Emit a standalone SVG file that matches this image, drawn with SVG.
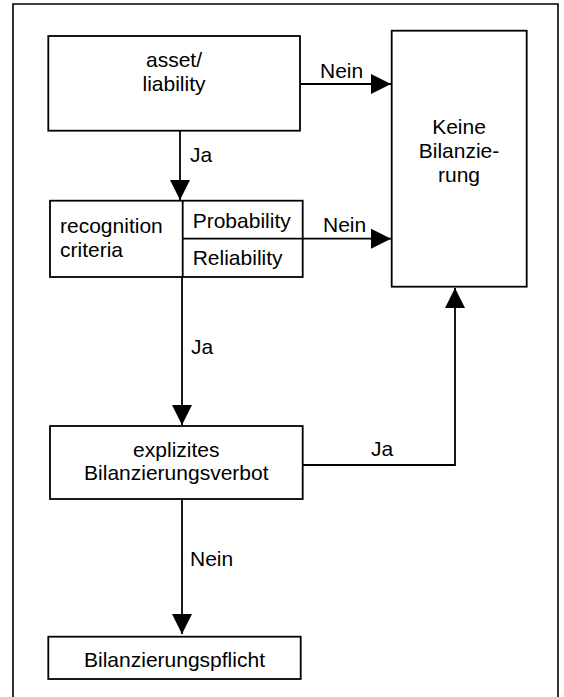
<svg xmlns="http://www.w3.org/2000/svg" width="564" height="697" viewBox="0 0 564 697">
<style>
.frame{fill:none;stroke:#000;stroke-width:1.6}
.box{fill:#fff;stroke:#000;stroke-width:1.8}
.ln{fill:none;stroke:#000;stroke-width:1.8}
text{font-family:"Liberation Sans",Arial,sans-serif;font-size:21px;fill:#000}
.c{text-anchor:middle}
</style>
<defs>
<marker id="ah" markerUnits="userSpaceOnUse" markerWidth="21" markerHeight="21" refX="20" refY="10" orient="auto" viewBox="0 0 21 21">
<path d="M0,0 L20,10 L0,20 z" fill="#000"/>
</marker>
</defs>
<rect width="564" height="697" fill="#fff"/>
<path class="frame" d="M13,700 V4 H558 V700"/>
<g id="connectors">
<line class="ln" x1="180" y1="131" x2="180" y2="200" marker-end="url(#ah)"/>
<line class="ln" x1="300" y1="84" x2="391" y2="84" marker-end="url(#ah)"/>
<line class="ln" x1="302" y1="238.7" x2="391" y2="238.7" marker-end="url(#ah)"/>
<line class="ln" x1="182" y1="277" x2="182" y2="425" marker-end="url(#ah)"/>
<line class="ln" x1="182" y1="499" x2="182" y2="634" marker-end="url(#ah)"/>
<polyline class="ln" points="302.7,465 455,465 455,288" marker-end="url(#ah)"/>
<text x="190" y="162">Ja</text>
<text x="320" y="78">Nein</text>
<text x="323" y="232">Nein</text>
<text x="191" y="354">Ja</text>
<text x="371" y="455.5">Ja</text>
<text x="190" y="566">Nein</text>
</g>
<g id="asset">
<rect class="box" x="48.3" y="36" width="251.7" height="94.7"/>
<text class="c" x="174" y="66.7">asset/</text>
<text class="c" x="174" y="90.7">liability</text>
</g>
<g id="keine">
<rect class="box" x="391.7" y="30.7" width="135" height="256"/>
<text class="c" x="459" y="134">Keine</text>
<text class="c" x="459" y="158">Bilanzie-</text>
<text class="c" x="459" y="181.7">rung</text>
</g>
<g id="recognition">
<rect class="box" x="50" y="200.7" width="252.7" height="76.3"/>
<line class="ln" x1="182.7" y1="200.7" x2="182.7" y2="277"/>
<line class="ln" x1="182.7" y1="238.7" x2="302.7" y2="238.7"/>
<text x="60" y="233">recognition</text>
<text x="60" y="257">criteria</text>
<text x="192.7" y="227.7">Probability</text>
<text x="192.7" y="265">Reliability</text>
</g>
<g id="verbot">
<rect class="box" x="50" y="426" width="252.7" height="73"/>
<text class="c" x="176.3" y="456.7">explizites</text>
<text class="c" x="176.3" y="480">Bilanzierungsverbot</text>
</g>
<g id="pflicht">
<rect class="box" x="48.3" y="636.7" width="252.4" height="42.3"/>
<text class="c" x="174.5" y="666.7">Bilanzierungspflicht</text>
</g>
</svg>
